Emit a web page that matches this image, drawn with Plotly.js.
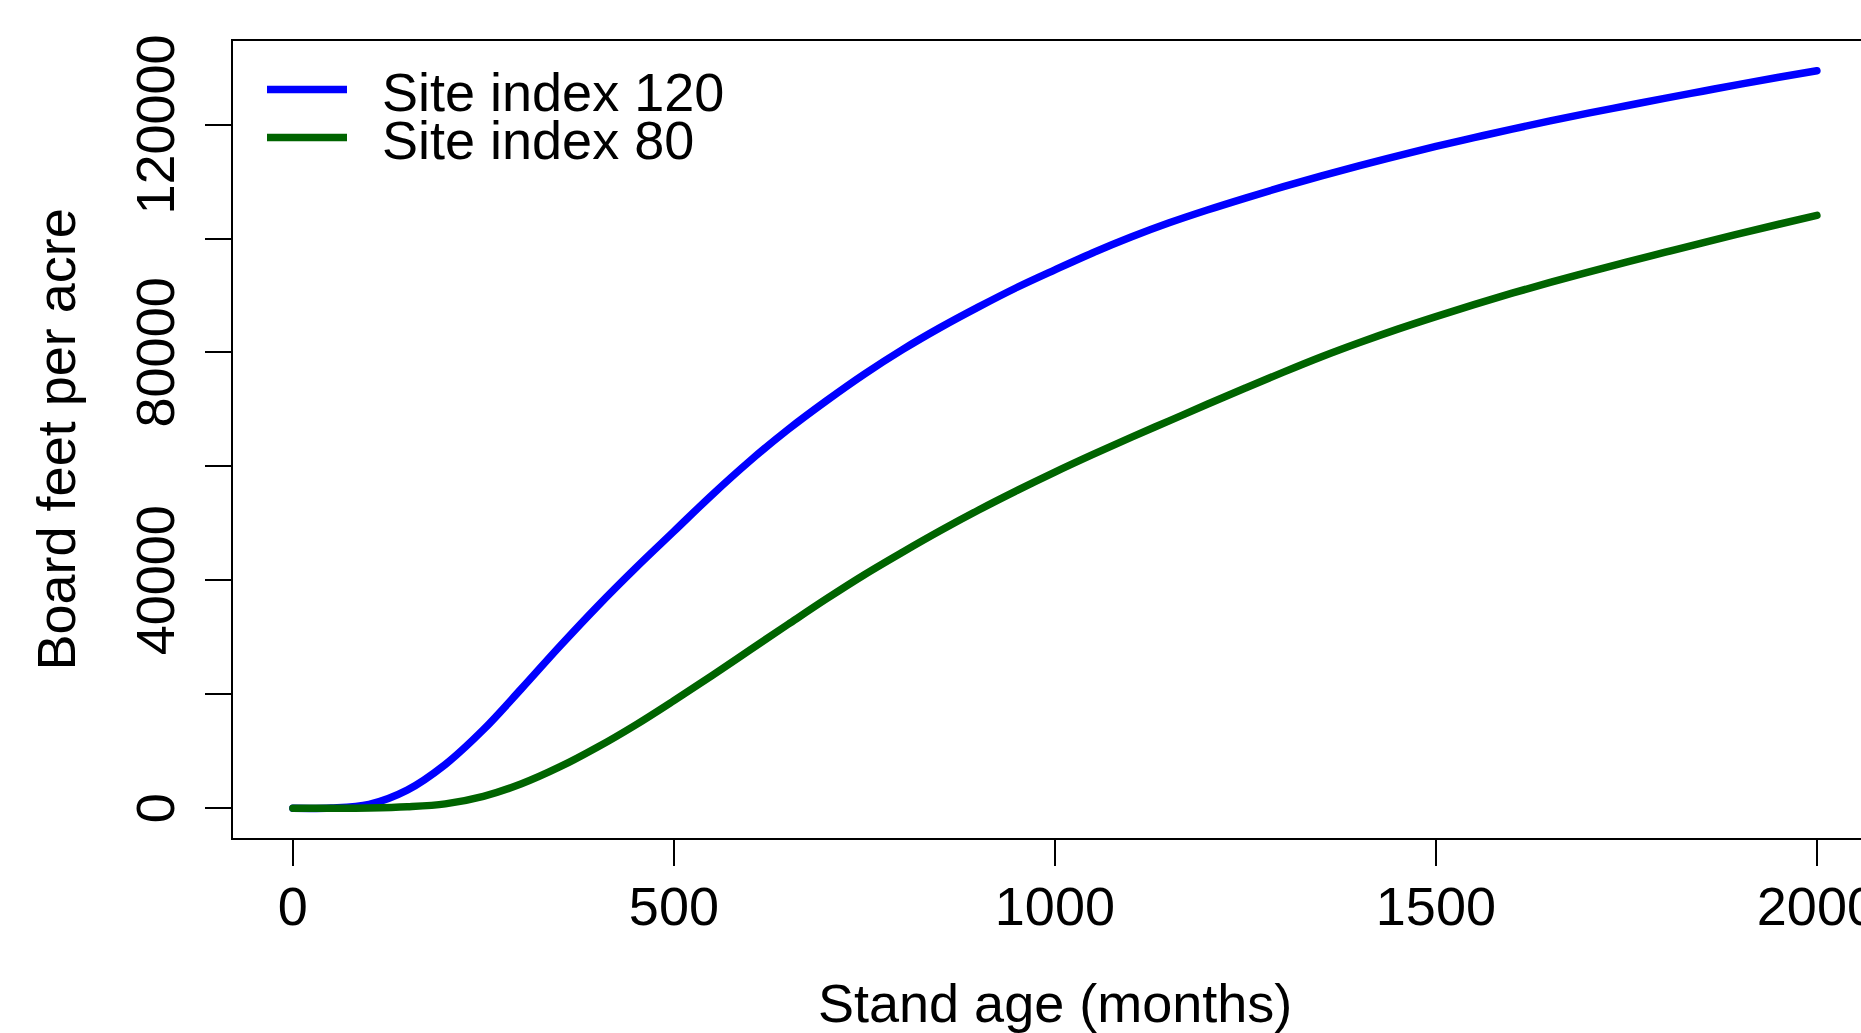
<!DOCTYPE html>
<html>
<head>
<meta charset="utf-8">
<script src="https://cdn.plot.ly/plotly-3.0.1.min.js"></script>
<style>html,body{margin:0;padding:0;background:#fff;}#chart{width:1861px;height:1033px;}
#chart .scatterlayer path.js-line{stroke-linecap:round;stroke-linejoin:round;}</style>
</head>
<body>
<div id="chart"></div>
<script>
// Stand age (months)
var months = [0,50,100,150,200,250,300,350,400,450,500,550,600,650,700,750,800,850,900,950,1000,
  1050,1100,1150,1200,1250,1300,1350,1400,1450,1500,1550,1600,1650,1700,1750,1800,1850,1900,1950,2000];
// Board feet per acre, site index 120
var site120 = [0,50,700,3200,7700,13800,21000,28400,35500,42200,48600,55000,61000,66500,71500,76200,80500,
  84400,88000,91400,94500,97500,100250,102750,105000,107100,109100,111000,112800,114500,116150,117700,
  119200,120650,122000,123300,124600,125850,127100,128300,129450];
// Board feet per acre, site index 80
var site80 = [0,0,60,270,780,2100,4300,7250,10750,14650,18900,23300,27800,32300,36750,41000,44950,
  48750,52350,55750,59000,62100,65100,68000,70900,73750,76550,79250,81750,84100,86300,88400,90400,
  92300,94100,95850,97550,99250,100900,102500,104050];

var seriesNames = ["Site index 120", "Site index 80"];
var seriesColors = ["#0000FF", "#006400"];
var xTickVals = [0,500,1000,1500,2000];
var xTickText = ["0","500","1000","1500","2000"];
var yTickVals = [0,20000,40000,60000,80000,100000,120000];
var yTickText = ["0","","40000","","80000","","120000"];
var xTitle = "Stand age (months)";
var yTitle = "Board feet per acre";

var FONT = "Liberation Sans, Arial, Helvetica, sans-serif";
var PAD = "\u00a0\u00a0";

var traces = [
  {x: months, y: site120, type: "scatter", mode: "lines", name: PAD + seriesNames[0],
   line: {color: seriesColors[0], width: 7.5, shape: "spline", smoothing: 1}, legend: "legend"},
  {x: months, y: site80, type: "scatter", mode: "lines", name: PAD + seriesNames[1],
   line: {color: seriesColors[1], width: 7.5, shape: "spline", smoothing: 1}, legend: "legend2"}
];

var legendCommon = {
  font: {family: FONT, size: 54, color: "#000"},
  bgcolor: "rgba(0,0,0,0)", borderwidth: 0,
  xanchor: "left", yanchor: "middle", itemwidth: 80,
  tracegroupgap: 0
};

var layout = {
  width: 1861, height: 1033,
  margin: {l: 233, r: 0, t: 41, b: 195, pad: 0},
  paper_bgcolor: "#fff", plot_bgcolor: "#fff",
  showlegend: true,
  font: {family: FONT, size: 54, color: "#000"},
  xaxis: {
    range: [-78.6, 2057.9], autorange: false,
    showgrid: false, zeroline: false,
    showline: true, linecolor: "#000", linewidth: 2, mirror: true,
    ticks: "outside", ticklen: 26, tickwidth: 2, tickcolor: "#000",
    tickmode: "array", tickvals: xTickVals, ticktext: xTickText,
    tickfont: {family: FONT, size: 54, color: "#000"},
    ticklabelstandoff: -6, ticklabeloverflow: "allow"
  },
  yaxis: {
    range: [-5212, 134661], autorange: false,
    showgrid: false, zeroline: false,
    showline: true, linecolor: "#000", linewidth: 2,
    ticks: "outside", ticklen: 26, tickwidth: 2, tickcolor: "#000",
    tickmode: "array", tickvals: yTickVals, ticktext: yTickText,
    tickangle: -90,
    tickfont: {family: FONT, size: 54, color: "#000"},
    ticklabelstandoff: 9, ticklabelshift: 8, ticklabeloverflow: "allow"
  },
  legend: Object.assign({x: (262 - 233) / 1628, y: (1033 - 90 - 195) / 797}, legendCommon),
  legend2: Object.assign({x: (262 - 233) / 1628, y: (1033 - 138 - 195) / 797}, legendCommon),
  annotations: [
    {text: xTitle, xref: "x", yref: "paper", x: 1000, y: (1033 - 1003 - 195) / 797,
     xanchor: "center", yanchor: "middle", showarrow: false,
     font: {family: FONT, size: 54, color: "#000"}},
    {text: yTitle, xref: "paper", yref: "paper", x: (55 - 233) / 1628, y: 0.5,
     xanchor: "center", yanchor: "middle", showarrow: false, textangle: -90,
     font: {family: FONT, size: 54, color: "#000"}}
  ]
};

Plotly.newPlot("chart", traces, layout, {staticPlot: true, displayModeBar: false});
</script>
</body>
</html>
